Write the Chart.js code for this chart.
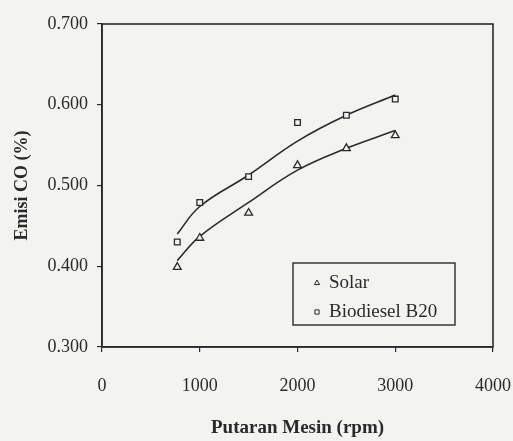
<!DOCTYPE html>
<html>
<head>
<meta charset="utf-8">
<script src="https://cdn.jsdelivr.net/npm/chart.js@4"></script>
<style>
  html, body { margin: 0; padding: 0; background: #f3f3f1; }
  #wrap { width: 513px; height: 441px; }
</style>
</head>
<body>
<div id="wrap"><canvas id="emisiChart" width="513" height="441"></canvas></div>
<script>
// rpm where measurements were taken
const rpm = [770, 1000, 1500, 2000, 2500, 3000];

// measured CO emission (%)
const solar = [0.399, 0.435, 0.466, 0.525, 0.546, 0.562];
const biodiesel = [0.430, 0.479, 0.511, 0.578, 0.587, 0.607];

// trend curves
const solarTrend = [0.407, 0.437, 0.479, 0.519, 0.546, 0.568];
const biodieselTrend = [0.440, 0.474, 0.513, 0.555, 0.587, 0.612];

const xTicks = [0, 1000, 2000, 3000, 4000];
const yTicks = [0.3, 0.4, 0.5, 0.6, 0.7];

const ink = '#2a2a2a';
const paper = '#f3f3f1';
const serif = "'Liberation Serif', 'Times New Roman', serif";

const toPoints = (ys) => rpm.map((x, i) => ({ x: x, y: ys[i] }));

const frameAndLegend = {
    id: 'frameAndLegend',
    afterDraw(chart) {
        const { ctx, chartArea: ca } = chart;
        ctx.save();
        ctx.strokeStyle = ink;
        ctx.lineWidth = 1.6;
        ctx.strokeRect(ca.left, ca.top, ca.right - ca.left, ca.bottom - ca.top);

        // legend box inside the plot
        const bx = ca.right - 200, by = ca.bottom - 84, bw = 162, bh = 62;
        ctx.lineWidth = 1.4;
        ctx.strokeRect(bx, by, bw, bh);
        ctx.font = '19px ' + serif;
        ctx.textBaseline = 'middle';
        const entries = chart.data.datasets.filter(d => d.showInLegend);
        entries.forEach((d, i) => {
            const cy = by + 20 + i * 29;
            ctx.fillStyle = paper;
            ctx.strokeStyle = ink;
            ctx.lineWidth = 1;
            Chart.helpers.drawPoint(ctx, {
                pointStyle: d.pointStyle, radius: 3, borderWidth: 1
            }, bx + 24, cy);
            ctx.fillStyle = ink;
            ctx.fillText(d.label, bx + 36, cy);
        });
        ctx.restore();
    }
};

document.addEventListener('DOMContentLoaded', () => {
    const canvas = document.getElementById('emisiChart');

    new Chart(canvas, {
        type: 'scatter',
        data: {
            datasets: [
                {
                    label: 'Solar',
                    data: toPoints(solar),
                    pointStyle: 'triangle',
                    pointRadius: 4.5,
                    borderColor: ink,
                    backgroundColor: paper,
                    borderWidth: 1.3,
                    showLine: false,
                    showInLegend: true
                },
                {
                    label: 'Biodiesel B20',
                    data: toPoints(biodiesel),
                    pointStyle: 'rect',
                    pointRadius: 4,
                    borderColor: ink,
                    backgroundColor: paper,
                    borderWidth: 1.3,
                    showLine: false,
                    showInLegend: true
                },
                {
                    label: 'Solar trend',
                    data: toPoints(solarTrend),
                    showLine: true,
                    pointRadius: 0,
                    borderColor: ink,
                    borderWidth: 1.6,
                    tension: 0.4
                },
                {
                    label: 'Biodiesel trend',
                    data: toPoints(biodieselTrend),
                    showLine: true,
                    pointRadius: 0,
                    borderColor: ink,
                    borderWidth: 1.6,
                    tension: 0.4
                }
            ]
        },
        options: {
            responsive: false,
            animation: false,
            layout: { padding: { top: 24, right: 0, left: 0, bottom: 0 } },
            plugins: { legend: { display: false }, tooltip: { enabled: false } },
            scales: {
                x: {
                    type: 'linear',
                    min: 0,
                    max: 4000,
                    afterBuildTicks: (s) => { s.ticks = xTicks.map(v => ({ value: v })); },
                    afterFit: (s) => {
                        s.height = 94;
                        s.paddingLeft = 0;
                        s.paddingRight = 20;
                    },
                    grid: { drawOnChartArea: false, tickLength: 5, color: ink, lineWidth: 1.2 },
                    border: { color: ink, width: 1.6 },
                    ticks: {
                        padding: 23,
                        color: ink,
                        font: { family: serif, size: 18 },
                        maxRotation: 0,
                        callback: (v) => String(v)
                    },
                    title: {
                        display: true,
                        text: 'Putaran Mesin (rpm)',
                        color: ink,
                        font: { family: serif, size: 19, weight: 'bold' },
                        padding: { top: 0, bottom: 2 }
                    }
                },
                y: {
                    min: 0.3,
                    max: 0.7,
                    afterBuildTicks: (s) => { s.ticks = yTicks.map(v => ({ value: v })); },
                    afterFit: (s) => { s.width = 102; },
                    grid: { drawOnChartArea: false, tickLength: 5, color: ink, lineWidth: 1.2 },
                    border: { color: ink, width: 1.6 },
                    ticks: {
                        padding: 9,
                        color: ink,
                        font: { family: serif, size: 18 },
                        callback: (v) => v.toFixed(3)
                    },
                    title: {
                        display: true,
                        text: 'Emisi CO (%)',
                        color: ink,
                        font: { family: serif, size: 18, weight: 'bold' },
                        padding: { top: 12, bottom: 0 }
                    }
                }
            }
        },
        plugins: [frameAndLegend]
    });
});
</script>
</body>
</html>
